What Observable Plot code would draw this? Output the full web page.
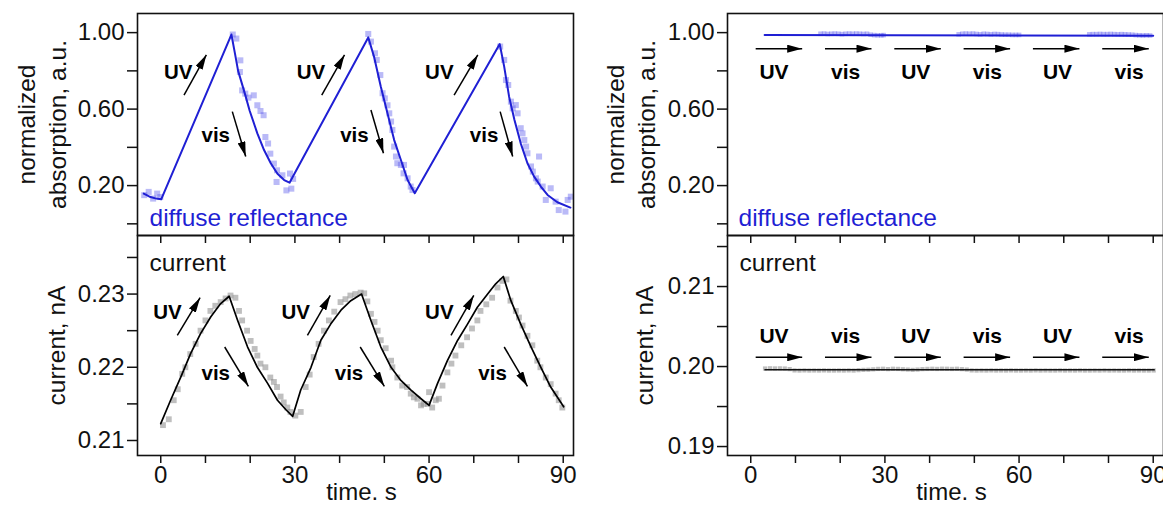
<!DOCTYPE html>
<html><head><meta charset="utf-8">
<script src="https://cdn.jsdelivr.net/npm/d3@7"></script>
<script src="https://cdn.jsdelivr.net/npm/@observablehq/plot@0.6"></script>
<style>
html,body{margin:0;padding:0;background:#fff;overflow:hidden;}
#wrap{position:relative;width:1163px;height:506px;overflow:hidden;}
#wrap svg{position:absolute;}
</style></head><body><div id="wrap"></div>
<script>
// ---------- data (time s, value) ----------
// Left, top: diffuse reflectance (normalized absorption)
const absFit = [[-3.8,0.158],[-2.3,0.14],[-1.0,0.132],[0.1,0.128],[15.8,0.99],[16.6,0.89],[17.3,0.80],[18.7,0.69],[19.9,0.59],[21.6,0.473],[23.1,0.386],[24.6,0.317],[26.1,0.262],[27.6,0.229],[28.8,0.215],
  [46.4,0.975],[47.7,0.874],[49.2,0.718],[50.7,0.578],[52.2,0.438],[53.7,0.334],[55.2,0.229],[56.8,0.16],
  [75.8,0.94],[76.8,0.822],[77.9,0.665],[79.1,0.543],[80.5,0.421],[82.0,0.317],[83.5,0.247],[85.0,0.195],[86.5,0.151],[88.7,0.113],[91.6,0.085]];
const absPoints = [[-3.7,0.15],[-2.7,0.167],[-1.7,0.132],[-0.8,0.158],[-0.1,0.14],
  [16.1,0.99],[16.9,0.969],[17.8,0.855],[17.7,0.794],[18.2,0.698],[18.9,0.681],[19.6,0.66],[20.8,0.672],[21.6,0.62],[22.3,0.59],[23.0,0.568],[23.4,0.454],[24.0,0.42],[24.5,0.367],[25.3,0.315],[26.0,0.28],[25.9,0.219],[27.2,0.254],[28.1,0.175],[28.9,0.263],[29.2,0.184],[29.6,0.235],
  [46.4,0.993],[47.0,0.953],[47.9,0.892],[48.3,0.857],[49.1,0.778],[49.6,0.683],[50.1,0.656],[50.7,0.62],[51.1,0.578],[51.5,0.535],[51.8,0.491],[52.2,0.404],[52.6,0.352],[52.9,0.317],[53.7,0.308],[54.4,0.308],[54.3,0.264],[55.2,0.238],[55.9,0.195],[56.3,0.177],
  [75.9,0.927],[76.8,0.857],[77.2,0.752],[77.7,0.726],[78.3,0.639],[78.7,0.604],[79.4,0.621],[79.8,0.578],[80.5,0.5],[80.9,0.473],[81.3,0.438],[81.7,0.404],[82.0,0.369],[84.6,0.352],[82.8,0.3],[83.2,0.273],[83.9,0.238],[84.3,0.221],[85.4,0.195],[86.1,0.125],[87.2,0.186],[88.3,0.116],[89.0,0.072],[90.5,0.064],[91.0,0.125],[91.7,0.142]];

// Left, bottom: current (nA)
const curFit = [[0.0,0.2123],[2.2,0.2155],[4.5,0.2187],[6.7,0.2219],[8.9,0.2246],[11.2,0.2269],[13.4,0.2287],[15.3,0.2297],[17.2,0.2264],[19.4,0.2228],[21.6,0.2200],[23.9,0.2178],[26.1,0.2155],[28.0,0.2142],[29.5,0.2133],
  [31.3,0.2169],[33.6,0.2200],[35.8,0.2237],[38.0,0.2259],[40.3,0.2278],[42.5,0.2291],[44.9,0.2300],[47.0,0.2264],[49.2,0.2228],[51.5,0.2200],[53.7,0.2182],[55.9,0.2169],[58.2,0.2157],[60.0,0.2148],
  [61.9,0.2178],[64.1,0.2209],[66.4,0.2237],[68.6,0.2259],[70.8,0.2282],[73.1,0.2300],[74.9,0.2314],[76.6,0.2324],[78.3,0.2291],[80.5,0.2259],[82.8,0.2228],[85.0,0.2200],[87.2,0.2173],[90.1,0.2146]];
const curPoints = [[0.5,0.2121],[1.8,0.2129],[2.9,0.2155],[3.8,0.2170],[4.8,0.2191],[5.5,0.2200],[6.6,0.2218],[7.8,0.2232],[8.9,0.2250],[10.0,0.2264],[11.1,0.2277],[12.2,0.2284],[13.4,0.2289],[14.5,0.2294],[15.6,0.2298],[16.7,0.2295],
  [17.5,0.2277],[18.2,0.2264],[19.3,0.2250],[20.1,0.2236],[21.0,0.2225],[21.6,0.2216],[22.3,0.2205],[23.4,0.2200],[24.5,0.2186],[25.3,0.2180],[26.0,0.2173],[26.8,0.2160],[27.5,0.2152],[28.3,0.2145],[29.0,0.2139],[30.1,0.2134],[31.3,0.2139],
  [32.4,0.2173],[33.3,0.2190],[34.2,0.2214],[35.3,0.2232],[36.5,0.2250],[37.6,0.2264],[38.8,0.2276],[40.2,0.2289],[41.3,0.2293],[42.4,0.2298],[43.5,0.2300],[44.7,0.2302],[45.5,0.2301],[46.2,0.2290],
  [47.0,0.2273],[47.8,0.2262],[48.5,0.2250],[49.2,0.2237],[50.3,0.2226],[51.5,0.2209],[51.8,0.2200],[52.9,0.2186],[54.0,0.2175],[55.1,0.2173],[55.9,0.2164],[56.6,0.2159],[57.4,0.2157],[58.2,0.2148],[58.8,0.2150],[59.7,0.2150],[60.0,0.2166],[60.7,0.2145],[61.5,0.2155],[62.2,0.2157],
  [63.0,0.2175],[64.1,0.2193],[65.0,0.2205],[65.9,0.2216],[67.2,0.2230],[68.5,0.2241],[69.6,0.2253],[70.8,0.2264],[71.5,0.2277],[72.8,0.2286],[74.1,0.2295],[75.3,0.2309],[76.4,0.2318],[77.3,0.2320],
  [78.2,0.2291],[79.4,0.2277],[80.1,0.2268],[80.9,0.2257],[82.0,0.2243],[83.1,0.2230],[84.2,0.2209],[84.9,0.2200],[86.1,0.2186],[87.2,0.2177],[88.3,0.2164],[89.0,0.2155],[89.8,0.2145]];

// Right, top: reference (no switching) absorption
const absFitRef = [[3.1,0.988],[90.0,0.984]];
const absPointsRef = [[15.6,0.994],[16.4,0.995],[17.2,0.993],[18.0,0.994],[18.8,0.995],[19.6,0.994],[20.4,0.992],[21.2,0.994],[22.0,0.995],[22.8,0.994],[23.6,0.995],[24.4,0.994],[25.2,0.993],[26.0,0.994],[26.8,0.989],[27.6,0.987],[28.4,0.986],[29.2,0.986],[29.7,0.987],
  [46.5,0.991],[47.3,0.994],[48.1,0.995],[48.9,0.994],[49.7,0.995],[50.5,0.993],[51.3,0.991],[52.1,0.994],[52.9,0.993],[53.7,0.991],[54.5,0.993],[55.3,0.992],[56.1,0.990],[56.9,0.989],[57.7,0.989],[58.5,0.988],[59.3,0.988],[60.0,0.988],
  [75.7,0.991],[76.5,0.992],[77.3,0.992],[78.1,0.993],[78.9,0.992],[79.7,0.992],[80.5,0.993],[81.3,0.992],[82.1,0.991],[82.9,0.992],[83.7,0.991],[84.5,0.990],[85.3,0.989],[86.1,0.987],[86.9,0.986],[87.7,0.985],[88.5,0.986],[89.3,0.985]];

// Right, bottom: reference current
const curFitRef = [[3.2,0.1996],[90.2,0.1996]];
const curPointsRef = [[3.2,0.19975],[4.3,0.19978],[5.4,0.19976],[6.5,0.19977],[7.6,0.19975],[8.7,0.19968],[9.8,0.19952],[10.9,0.1995],[12.0,0.19952],[13.1,0.1995],[14.2,0.19951],[15.3,0.1995],[16.4,0.19952],[17.5,0.1995],[18.6,0.1995],[19.7,0.19951],[20.8,0.1995],[21.9,0.19952],[23.0,0.1995],[24.1,0.19955],[25.2,0.19958],[26.3,0.1996],[27.4,0.19965],[28.5,0.1997],[29.6,0.19972],[30.7,0.19968],[31.8,0.19972],[32.9,0.1997],[34.0,0.19966],[35.1,0.19962],[36.2,0.19958],[37.3,0.19962],[38.4,0.19968],[39.5,0.1997],[40.6,0.19972],[41.7,0.1997],[42.8,0.19973],[43.9,0.19972],[45.0,0.1997],[46.1,0.19972],[47.2,0.19968],[48.3,0.19962],[49.4,0.19952],[50.5,0.1995],[51.6,0.19951],[52.7,0.1995],[53.8,0.19952],[54.9,0.1995],[56.0,0.19951],[57.1,0.1995],[58.2,0.19952],[59.3,0.1995],[60.4,0.1995],[61.5,0.19951],[62.6,0.1995],[63.7,0.19952],[64.8,0.1995],[65.9,0.19951],[67.0,0.1995],[68.1,0.1995],[69.2,0.19952],[70.3,0.1995],[71.4,0.19951],[72.5,0.1995],[73.6,0.19952],[74.7,0.1995],[75.8,0.1995],[76.9,0.19951],[78.0,0.1995],[79.1,0.19952],[80.2,0.1995],[81.3,0.19951],[82.4,0.1995],[83.5,0.1995],[84.6,0.19952],[85.7,0.1995],[86.8,0.19951],[87.9,0.1995],[89.0,0.1995],[90.1,0.19951]];

// annotations (data units): arrows [t1, v1, t2, v2], labels [t, v, text]
const absArrows = [[5.2,0.673,10.2,0.884],[16.0,0.587,19.0,0.352],[36.0,0.673,41.1,0.884],[47.0,0.595,49.8,0.369],[65.6,0.673,70.9,0.884],[75.9,0.587,78.7,0.352]];
const absLabels = [[3.9,0.79,"UV"],[12.3,0.46,"vis"],[33.6,0.79,"UV"],[43.3,0.46,"vis"],[62.3,0.79,"UV"],[72.3,0.46,"vis"]];
const curArrows = [[3.7,0.22436,8.8,0.2295],[14.3,0.22277,19.6,0.2174],[32.8,0.22436,37.9,0.22981],[44.6,0.22277,50.0,0.2174],[64.9,0.22436,70.0,0.22981],[76.8,0.22277,82.0,0.2174]];
const curLabels = [[1.5,0.22755,"UV"],[12.3,0.21913,"vis"],[30.2,0.22755,"UV"],[42.1,0.21913,"vis"],[62.3,0.22755,"UV"],[74.2,0.21913,"vis"]];
const refArrowSpans = [[1.1,11.5],[16.6,27.0],[32.1,42.5],[47.6,58.0],[63.1,73.5],[78.6,89.0]];
const refLabelPos = [[5.2,"UV"],[21.2,"vis"],[36.9,"UV"],[52.9,"vis"],[68.6,"UV"],[84.6,"vis"]];
const absRefArrowLevel = 0.916, absRefLabelLevel = 0.794;
const curRefArrowLevel = 0.20116, curRefLabelLevel = 0.20375;

// ticks
const xMajor = [0, 30, 60, 90];
const xMinor = [10, 20, 40, 50, 70, 80];
const xAll = [0, 10, 20, 30, 40, 50, 60, 70, 80, 90];
const absMajor = [0.2, 0.6, 1.0], absMinor = [0.0, 0.4, 0.8];
const curMajor = [0.21, 0.22, 0.23], curMinor = [0.215, 0.225, 0.235];
const curRefMajor = [0.19, 0.20, 0.21], curRefMinor = [0.195, 0.205, 0.215];

// ---------- drawing ----------
const FONT = "'Liberation Sans', Arial, Helvetica, sans-serif";
const X_DOMAIN = [-5.2, 92.3];
const BLUE = "#1f1fd4";
const wrap = document.getElementById("wrap");

function arrowHead(color, context) {
  const doc = (context && context.document) || document;
  const ns = "http://www.w3.org/2000/svg";
  const m = doc.createElementNS(ns, "marker");
  m.setAttribute("viewBox", "-15 -4 15 8");
  m.setAttribute("markerWidth", 15);
  m.setAttribute("markerHeight", 8);
  m.setAttribute("markerUnits", "userSpaceOnUse");
  m.setAttribute("orient", "auto");
  m.setAttribute("refX", 0);
  m.setAttribute("refY", 0);
  const p = doc.createElementNS(ns, "path");
  p.setAttribute("d", "M-15,-4L0,0L-15,4Z");
  p.setAttribute("fill", color);
  p.setAttribute("stroke", "none");
  m.appendChild(p);
  return m;
}
let MARKER = arrowHead;
try { Plot.link([[0,0,1,1]], {x1: d=>d[0], y1: d=>d[1], x2: d=>d[2], y2: d=>d[3], markerEnd: arrowHead}); }
catch (e) { MARKER = "arrow"; }

const X = d => d[0], Y = d => d[1];
const blank = () => "";

function panel({left, top, height, marginTop, marginBottom, yDomain, yMajor, yMinor, fmt, marks, bottom}) {
  const xAxes = bottom ? [
    Plot.axisX(xMajor, {anchor: "bottom", tickSize: 8, tickPadding: 2, strokeWidth: 1.5, fontSize: 24, tickFormat: d => String(d), label: null}),
    Plot.axisX(xMinor, {anchor: "bottom", tickSize: 8, strokeWidth: 1.5, tickFormat: blank, label: null}),
    Plot.text(["time. s"], {text: d => d, frameAnchor: "bottom", dx: 6, dy: 37, fontSize: 24, lineAnchor: "middle", fill: "#111"})
  ] : [
    Plot.axisX(xAll, {anchor: "bottom", tickSize: 8, strokeWidth: 1.5, tickFormat: blank, label: null})
  ];
  const svg = Plot.plot({
    width: 580, height,
    marginLeft: 137, marginRight: 7, marginTop, marginBottom,
    x: {domain: X_DOMAIN, label: null},
    y: {domain: yDomain, label: null},
    style: {fontFamily: FONT, fontSize: "24px", color: "#111", background: "transparent", overflow: "visible"},
    marks: [
      ...marks,
      Plot.frame({stroke: "#111", strokeWidth: 1.6}),
      Plot.axisY(yMajor, {anchor: "left", tickSize: 10, tickPadding: 3, strokeWidth: 1.5, fontSize: 24, tickFormat: fmt, label: null}),
      Plot.axisY(yMinor, {anchor: "left", tickSize: 10, strokeWidth: 1.5, tickFormat: blank, label: null}),
      ...xAxes
    ]
  });
  svg.style.left = left + "px";
  svg.style.top = top + "px";
  wrap.appendChild(svg);
}

const f2 = d => d.toFixed(2);
const TOP = {top: 0, height: 250, marginTop: 13, marginBottom: 15, yDomain: [-0.061, 1.10], yMajor: absMajor, yMinor: absMinor, fmt: f2, bottom: false};

function absTitle(dx) {
  return Plot.text(["normalized\nabsorption, a.u."], {text: d => d, frameAnchor: "left", dx, rotate: -90, textAnchor: "middle", lineAnchor: "middle", lineHeight: 1.25, fontSize: 24.5, fill: "#111"});
}
function curTitle(dx) {
  return Plot.text(["current, nA"], {text: d => d, frameAnchor: "left", dx, rotate: -90, textAnchor: "middle", lineAnchor: "middle", fontSize: 24.5, fill: "#111"});
}
function tagText(str, color, dx, dy, anchor) {
  return Plot.text([str], {text: d => d, frameAnchor: anchor, dx, dy, textAnchor: "start", lineAnchor: "middle", fontSize: 24.5, fill: color});
}

// top-left
panel({...TOP, left: 0, marks: [
  Plot.dot(absPoints, {x: X, y: Y, symbol: "square", r: 3.4, fill: "#5a5aec", fillOpacity: 0.42, stroke: "none"}),
  Plot.line(absFit, {x: X, y: Y, stroke: BLUE, strokeWidth: 2}),
  Plot.link(absArrows, {x1: d => d[0], y1: d => d[1], x2: d => d[2], y2: d => d[3], stroke: "#000", strokeWidth: 1.5, markerEnd: MARKER}),
  Plot.text(absLabels, {x: X, y: Y, text: d => d[2], fontWeight: "bold", fontSize: 20.5, textAnchor: "middle", lineAnchor: "middle", fill: "#000"}),
  tagText("diffuse reflectance", BLUE, 12, -17, "bottom-left"),
  absTitle(-97)
]});

// top-right
panel({...TOP, left: 590, marks: [
  Plot.dot(absPointsRef, {x: X, y: Y, symbol: "square", r: 2.6, fill: "#5a5aec", fillOpacity: 0.42, stroke: "none"}),
  Plot.line(absFitRef, {x: X, y: Y, stroke: BLUE, strokeWidth: 2}),
  Plot.link(refArrowSpans, {x1: d => d[0], x2: d => d[1], y1: () => absRefArrowLevel, y2: () => absRefArrowLevel, stroke: "#000", strokeWidth: 1.5, markerEnd: MARKER}),
  Plot.text(refLabelPos, {x: X, y: () => absRefLabelLevel, text: d => d[1], fontWeight: "bold", fontSize: 21, textAnchor: "middle", lineAnchor: "middle", fill: "#000"}),
  tagText("diffuse reflectance", BLUE, 11, -17, "bottom-left"),
  absTitle(-98)
]});

const BOT = {top: 230, height: 276, marginTop: 5, marginBottom: 51, fmt: f2, bottom: true};

// bottom-left
panel({...BOT, left: 0, yDomain: [0.20795, 0.2380], yMajor: curMajor, yMinor: curMinor, marks: [
  Plot.dot(curPoints, {x: X, y: Y, symbol: "square", r: 3.3, fill: "#8a8a8a", fillOpacity: 0.55, stroke: "none"}),
  Plot.line(curFit, {x: X, y: Y, stroke: "#000", strokeWidth: 1.7}),
  Plot.link(curArrows, {x1: d => d[0], y1: d => d[1], x2: d => d[2], y2: d => d[3], stroke: "#000", strokeWidth: 1.5, markerEnd: MARKER}),
  Plot.text(curLabels, {x: X, y: Y, text: d => d[2], fontWeight: "bold", fontSize: 20.5, textAnchor: "middle", lineAnchor: "middle", fill: "#000"}),
  tagText("current", "#111", 12, 28, "top-left"),
  curTitle(-80)
]});

// bottom-right
panel({...BOT, left: 590, yDomain: [0.18888, 0.21638], yMajor: curRefMajor, yMinor: curRefMinor, marks: [
  Plot.dot(curPointsRef, {x: X, y: Y, symbol: "square", r: 2.4, fill: "#8a8a8a", fillOpacity: 0.55, stroke: "none"}),
  Plot.line(curFitRef, {x: X, y: Y, stroke: "#111", strokeWidth: 1.7}),
  Plot.link(refArrowSpans, {x1: d => d[0], x2: d => d[1], y1: () => curRefArrowLevel, y2: () => curRefArrowLevel, stroke: "#000", strokeWidth: 1.5, markerEnd: MARKER}),
  Plot.text(refLabelPos, {x: X, y: () => curRefLabelLevel, text: d => d[1], fontWeight: "bold", fontSize: 21, textAnchor: "middle", lineAnchor: "middle", fill: "#000"}),
  tagText("current", "#111", 12, 28, "top-left"),
  curTitle(-82)
]});
</script></body></html>
